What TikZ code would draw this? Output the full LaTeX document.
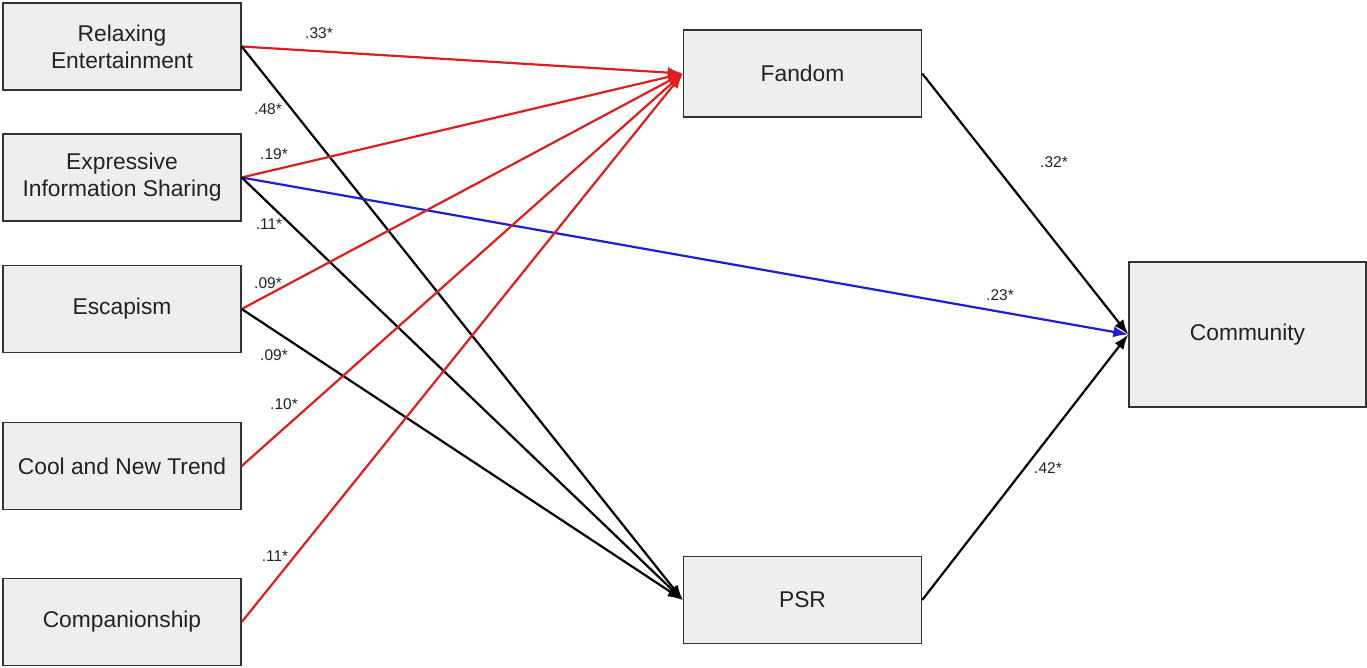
\documentclass[tikz,border=0pt]{standalone}
\usepackage{fontspec}
\setmainfont{Liberation Sans}
\usetikzlibrary{arrows.meta}
\definecolor{boxfill}{HTML}{EEEEEE}
\definecolor{boxline}{HTML}{333333}
\definecolor{pathred}{HTML}{DD1E1E}
\definecolor{pathblue}{HTML}{1E1ED2}
\definecolor{txt}{HTML}{222222}
\begin{document}
\begin{tikzpicture}[x=1pt,y=-1pt,
  var/.style={draw=boxline, fill=boxfill, line width=1.4pt, minimum width=238pt,
    minimum height=87pt, inner sep=0pt, align=center,
    font=\fontsize{22.8}{27}\selectfont, text=txt},
  coef/.style={font=\fontsize{15.5}{18}\selectfont, inner sep=0pt, text=txt},
  effect/.style={line width=2.2pt, -{Latex[length=15pt,width=11pt]}},
]
\useasboundingbox (0,0) rectangle (1367,667);
\node[var] (re) at (122,46.5) {Relaxing\\Entertainment};
\node[var] (eis) at (122,177.5) {Expressive\\Information Sharing};
\node[var] (esc) at (122,309) {Escapism};
\node[var] (cnt) at (122,466) {Cool and New Trend};
\node[var] (comp) at (122,622) {Companionship};
\node[var] (fan) at (802.5,73.5) {Fandom};
\node[var] (psr) at (802.5,600) {PSR};
\node[var, minimum width=237pt, minimum height=145pt] (com) at (1247.5,334.5) {Community};

\draw[effect, pathred] (re.east) -- (fan.west);
\draw[effect, black] (re.east) -- (psr.west);
\draw[effect, pathred] (eis.east) -- (fan.west);
\draw[effect, pathblue] (eis.east) -- (com.west);
\draw[effect, black] (eis.east) -- (psr.west);
\draw[effect, pathred] (esc.east) -- (fan.west);
\draw[effect, black] (esc.east) -- (psr.west);
\draw[effect, pathred] (cnt.east) -- (fan.west);
\draw[effect, pathred] (comp.east) -- (fan.west);
\draw[effect, black] (fan.east) -- (com.west);
\draw[effect, black] (psr.east) -- (com.west);

\node[coef] (c1) at (319,33) {.33*};
\node[coef] (c2) at (268,109) {.48*};
\node[coef] (c3) at (274,154) {.19*};
\node[coef] (c4) at (269,224) {.11*};
\node[coef] (c5) at (268,283) {.09*};
\node[coef] (c6) at (274,355) {.09*};
\node[coef] (c7) at (284,404) {.10*};
\node[coef] (c8) at (275,556) {.11*};
\node[coef] (c9) at (1054,162) {.32*};
\node[coef] (c10) at (1000,295) {.23*};
\node[coef] (c11) at (1048,468) {.42*};
\end{tikzpicture}
\end{document}
